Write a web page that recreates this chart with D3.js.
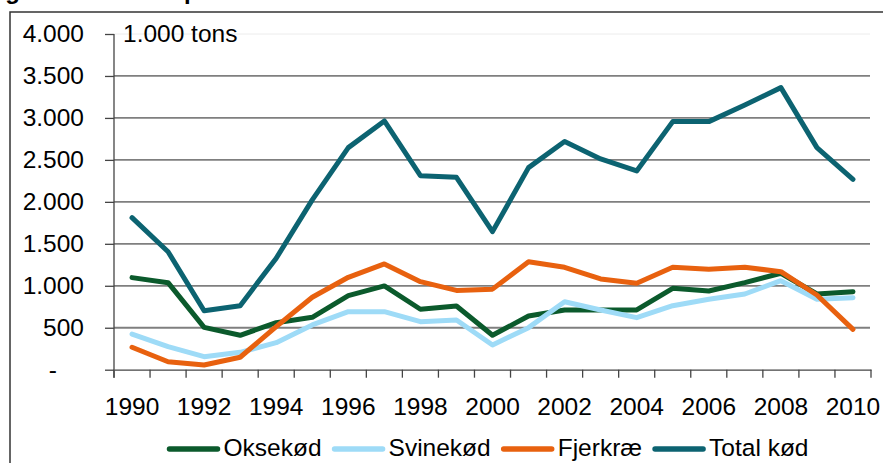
<!DOCTYPE html>
<html>
<head>
<meta charset="utf-8">
<script src="https://cdn.jsdelivr.net/npm/d3@7"></script>
<style>
  body { margin: 0; background: #fff; }
  svg text { font-family: "Liberation Sans", Arial, sans-serif; fill: #000; }
</style>
</head>
<body>
<div id="chart"></div>
<script>
// data (1.000 tons)
const years = d3.range(1990, 2011);
const yearLabels = ["1990", "1992", "1994", "1996", "1998", "2000", "2002", "2004", "2006", "2008", "2010"];
const yTicks = [0, 500, 1000, 1500, 2000, 2500, 3000, 3500, 4000];

const oksekod = [1097, 1037, 505, 410, 560, 624, 882, 998, 720, 759, 410, 640, 712, 712, 712, 970, 938, 1037, 1149, 902, 930];
const svinekod = [425, 274, 155, 207, 322, 533, 691, 691, 572, 592, 294, 501, 810, 712, 620, 763, 839, 902, 1061, 839, 858];
const fjerkrae = [267, 95, 56, 148, 513, 863, 1101, 1260, 1049, 945, 960, 1287, 1220, 1081, 1030, 1220, 1197, 1220, 1168, 890, 481];
const totalKod = [1812, 1406, 703, 763, 1328, 2023, 2646, 2964, 2312, 2293, 1645, 2408, 2718, 2511, 2368, 2956, 2956, 3155, 3361, 2646, 2269];

const series = [
  { name: "Oksekød", values: oksekod, color: "#0b5a2c" },
  { name: "Svinekød", values: svinekod, color: "#9edbf7" },
  { name: "Fjerkræ", values: fjerkrae, color: "#e8610f" },
  { name: "Total kød", values: totalKod, color: "#0c6371" },
];

const svgWidth = 883;
const svgHeight = 463;
const plot = { left: 114, right: 871, top: 34, bottom: 369.7 };
const fontSize = "24.5px";

const svg = d3
  .select("#chart")
  .append("svg")
  .attr("width", svgWidth)
  .attr("height", svgHeight);

// title, cut off at the top edge (only descenders show)
svg
  .append("text")
  .attr("x", -16)
  .attr("y", -1)
  .style("font-size", "24px")
  .style("font-weight", "bold")
  .text("Figur 3. Dansk import af kød");

// outer frame
svg
  .append("rect")
  .attr("x", 10)
  .attr("y", 12)
  .attr("width", 900)
  .attr("height", 500)
  .attr("fill", "none")
  .attr("stroke", "#333")
  .attr("stroke-width", 1.5);

const xScale = d3.scaleBand().domain(years).range([plot.left, plot.right]);
const yScale = d3.scaleLinear().domain([0, 4000]).range([plot.bottom, plot.top]);

// gridlines
svg
  .append("g")
  .selectAll("line")
  .data(yTicks.filter((d) => d > 0))
  .enter()
  .append("line")
  .attr("x1", plot.left)
  .attr("x2", plot.right - 1)
  .attr("y1", (d) => yScale(d))
  .attr("y2", (d) => yScale(d))
  .attr("stroke", (d) => (d === 4000 ? "#ececec" : "#7f7f7f"))
  .attr("stroke-width", (d) => (d === 4000 ? 1 : 1.8));

// y axis
const yAxis = svg
  .append("g")
  .attr("transform", `translate(${plot.left},0)`)
  .call(
    d3
      .axisLeft(yScale)
      .tickValues(yTicks)
      .tickSize(9)
      .tickPadding(21)
      .tickFormat((d) => (d === 0 ? "-" : d3.format(",")(d).replace(/,/g, ".")))
  );
yAxis.select(".domain").attr("stroke", "#444").attr("stroke-width", 1.3).attr("d", `M0,${plot.top}V${plot.bottom + 8}`);
yAxis.selectAll(".tick line").attr("stroke", "#444").attr("stroke-width", 1.3);
yAxis.selectAll(".tick text").style("font-size", fontSize).attr("fill", "#000");
yAxis
  .selectAll(".tick")
  .filter((d) => d === 0)
  .select("text")
  .attr("x", -57);

// x axis: labels centred on categories, tick marks on category boundaries
const xAxis = svg
  .append("g")
  .attr("transform", `translate(0,${plot.bottom})`)
  .call(
    d3
      .axisBottom(xScale)
      .tickValues(years.filter((d) => yearLabels.includes(String(d))))
      .tickSize(0)
      .tickPadding(28)
  );
xAxis.select(".domain").attr("stroke", "#444").attr("stroke-width", 1.3);
xAxis.selectAll(".tick text").style("font-size", fontSize).attr("fill", "#000");

const boundaries = years.map((d) => xScale(d)).concat([xScale.range()[1]]);
xAxis
  .selectAll(".bound")
  .data(boundaries)
  .enter()
  .append("line")
  .attr("class", "bound")
  .attr("x1", (d) => d)
  .attr("x2", (d) => d)
  .attr("y1", 0)
  .attr("y2", 8)
  .attr("stroke", "#444")
  .attr("stroke-width", 1.3);

// unit label
svg
  .append("text")
  .attr("x", 123)
  .attr("y", yScale(4000))
  .attr("dy", "0.32em")
  .style("font-size", fontSize)
  .text("1.000 tons");

// lines
const line = d3
  .line()
  .x((d, i) => xScale(years[i]) + xScale.bandwidth() / 2)
  .y((d) => yScale(d));

svg
  .append("g")
  .selectAll("path")
  .data(series)
  .enter()
  .append("path")
  .attr("fill", "none")
  .attr("stroke", (d) => d.color)
  .attr("stroke-width", 5)
  .attr("stroke-linejoin", "round")
  .attr("stroke-linecap", "round")
  .attr("d", (d) => line(d.values));

// legend
const legend = svg.append("g").attr("class", "legend");
let lx = 0;
series.forEach((s) => {
  const item = legend.append("g").attr("transform", `translate(${lx},0)`);
  item
    .append("line")
    .attr("x1", 2)
    .attr("x2", 50)
    .attr("y1", 0)
    .attr("y2", 0)
    .attr("stroke", s.color)
    .attr("stroke-width", 5.5)
    .attr("stroke-linecap", "round");
  const t = item
    .append("text")
    .attr("x", 56)
    .attr("y", 0)
    .attr("dy", "0.3em")
    .style("font-size", fontSize)
    .text(s.name);
  lx += 56 + t.node().getComputedTextLength() + 11;
});
const legendWidth = lx - 11;
legend.attr("transform", `translate(${488 - legendWidth / 2},449)`);
</script>
</body>
</html>
